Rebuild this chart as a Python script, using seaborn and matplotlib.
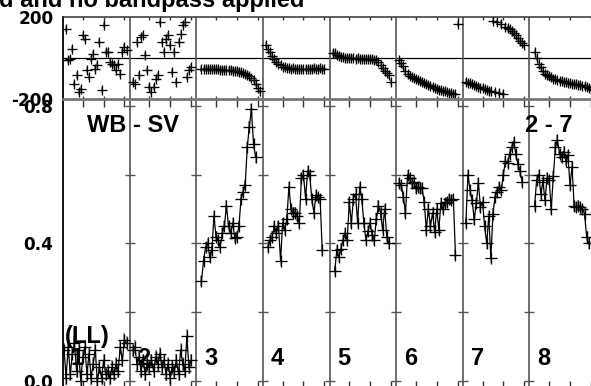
import numpy as np
import pandas as pd
import matplotlib
matplotlib.use('Agg')
import matplotlib.pyplot as plt
import seaborn as sns

sns.set_theme(style='white')
plt.rcParams['font.family'] = ['DejaVu Sans']
plt.rcParams['text.color'] = 'black'
plt.rcParams['ytick.color'] = 'black'

# ---- data: 8 IFs x 32 channels, LL, baseline WB - SV ----
nchan = 32
if_names = ['1', '2', '3', '4', '5', '6', '7', '8']

# amplitude (first channel of each list, then values)
amp_start = [1, 2, 3, 3, 3, 2, 2, 3]
amp_if1 = [0.09, 0.01, 0.10, 0.02, 0.08, 0.11, 0.03, 0.09, 0.00, 0.07, 0.10, 0.02, 0.08, 0.01, 0.05, 0.09,
           0.00, 0.04, 0.01, 0.06, 0.02, 0.03, 0.01, 0.04, 0.02, 0.05, 0.03, 0.10, 0.06, 0.12, 0.11]
amp_if2 = [0.09, 0.10, 0.05, 0.07, 0.03, 0.06, 0.02, 0.05, 0.04, 0.06, 0.03, 0.07, 0.05, 0.08, 0.04, 0.06,
           0.02, 0.05, 0.01, 0.04, 0.03, 0.06, 0.02, 0.09, 0.05, 0.03, 0.13, 0.04, 0.06]
amp_if3 = [0.29, 0.35, 0.39, 0.40, 0.36, 0.38, 0.48, 0.42, 0.41, 0.39, 0.43, 0.45, 0.51, 0.45, 0.43, 0.46,
           0.415, 0.42, 0.45, 0.53, 0.55, 0.57, 0.68, 0.74, 0.79, 0.69, 0.65]
amp_if4 = [0.39, 0.41, 0.42, 0.45, 0.43, 0.45, 0.35, 0.46, 0.44, 0.47, 0.565, 0.50, 0.49, 0.49, 0.48, 0.46,
           0.59, 0.60, 0.53, 0.61, 0.60, 0.53, 0.49, 0.54, 0.535, 0.53, 0.38]
amp_if5 = [0.32, 0.38, 0.36, 0.385, 0.41, 0.43, 0.41, 0.52, 0.46, 0.53, 0.545, 0.46, 0.565, 0.53, 0.46, 0.41,
           0.435, 0.46, 0.425, 0.41, 0.47, 0.51, 0.49, 0.44, 0.50, 0.42, 0.40]
amp_if6 = [0.575, 0.57, 0.535, 0.49, 0.60, 0.59, 0.575, 0.58, 0.56, 0.565, 0.56, 0.56, 0.52, 0.44, 0.50, 0.45,
           0.49, 0.434, 0.50, 0.44, 0.517, 0.50, 0.517, 0.52, 0.53, 0.526, 0.53, 0.366]
amp_if7 = [0.46, 0.60, 0.555, 0.526, 0.47, 0.517, 0.575, 0.507, 0.52, 0.45, 0.40, 0.48, 0.357, 0.487, 0.535, 0.55,
           0.565, 0.555, 0.60, 0.64, 0.633, 0.66, 0.68, 0.695, 0.66, 0.63, 0.61, 0.58]
amp_if8 = [0.51, 0.585, 0.60, 0.545, 0.58, 0.526, 0.59, 0.585, 0.50, 0.595, 0.68, 0.70, 0.66, 0.65, 0.667, 0.64,
           0.657, 0.57, 0.623, 0.51, 0.507, 0.51, 0.507, 0.50, 0.487, 0.42, 0.40]
amp_err = [0.02, 0.02, 0.015, 0.015, 0.015, 0.015, 0.015, 0.015]

# phase in degrees
ph_start = [2, 2, 3, 2, 2, 2, 2, 3]
ph_if1 = [143, -11, -3, 45, -125, -85, -166, -150, 111, 95, -60, -93, -3, 21, -52, -36,
          80, -158, 160, 29, 29, -20, -28, -36, -60, -28, -77, 29, 54, 37]
ph_if2 = [-117, -125, 78, -85, 102, 111, 13, -60, -141, -166, -141, -101, -85, 176, 78, 29,
          94, 111, 62, -68, 29, -117, 78, 119, 160, 176, -93, -60, -44]
ph_if3 = [-52, -53, -53, -54, -54, -55, -55, -56, -56, -57, -57, -58, -58, -59, -60, -61,
          -62, -64, -66, -69, -72, -76, -81, -88, -96, -108, -125, -145, -160]
ph_if4 = [63, 45, 30, 10, -5, -18, -28, -36, -42, -46, -49, -50, -52, -51, -53, -52,
          -53, -52, -54, -53, -52, -53, -52, -51, -53, -52, -51, -52, -53]
ph_if5 = [25, 22, 15, 8, 5, 3, 2, 0, 0, -2, -1, -3, -2, -3, -4, -3,
          -5, -4, -6, -5, -8, -12, -20, -35, -50, -62, -72, -85, -115]
ph_if6 = [-12, -22, -38, -62, -78, -86, -92, -98, -103, -108, -113, -118, -122, -127, -132, -137,
          -141, -146, -150, -154, -157, -160, -163, -166, -169, -172, -175, -178, 167]
ph_if7 = [-115, -120, -124, -128, -132, -136, -140, -144, -148, -152, -156, -160, -163, 179, -167, 176,
          -171, 168, -174, 152, 146, 140, 133, 122, 111, 98, 85, 72, 62]
ph_if8 = [30, 0, -28, -45, -62, -76, -84, -90, -95, -100, -104, -108, -111, -114, -117, -119,
          -121, -123, -125, -127, -129, -131, -133, -136, -139, -143, -147, -152, -158]
ph_err = [15, 15, 15, 15, 15, 15, 15, 15]

amp_lists = [amp_if1, amp_if2, amp_if3, amp_if4, amp_if5, amp_if6, amp_if7, amp_if8]
ph_lists = [ph_if1, ph_if2, ph_if3, ph_if4, ph_if5, ph_if6, ph_if7, ph_if8]

rows = []
for k, vals in enumerate(amp_lists):
    for i, v in enumerate(vals):
        rows.append({'IF': k + 1, 'chan': k * nchan + amp_start[k] + i, 'amp': v, 'err': amp_err[k]})
amp_df = pd.DataFrame(rows)

rows = []
for k, vals in enumerate(ph_lists):
    for i, v in enumerate(vals):
        rows.append({'IF': k + 1, 'chan': k * nchan + ph_start[k] + i, 'phase': v, 'err': ph_err[k]})
ph_df = pd.DataFrame(rows)

# ---- figure ----
W, H = 591, 386
fig = plt.figure(figsize=(W / 100, H / 100), dpi=100)
ax_ph = fig.add_axes([63 / W, (H - 99) / H, 533 / W, 82 / H])
ax_amp = fig.add_axes([63 / W, (H - 389) / H, 533 / W, 290 / H])

grey = '#8c8c8c'
sep_col = '#555555'
n_if = len(if_names)
xlim = (0.5, n_if * nchan + 0.5)
bounds = [k * nchan + 0.5 for k in range(1, n_if)]
xt = [k * nchan + c for k in range(n_if) for c in (10, 20, 30)]

# phase panel
ax_ph.errorbar(ph_df['chan'], ph_df['phase'], yerr=ph_df['err'], fmt='none',
               ecolor=grey, elinewidth=1.3, capsize=0, zorder=2)
sns.scatterplot(data=ph_df, x='chan', y='phase', marker='+', color='black',
                s=60, linewidth=0.95, ax=ax_ph, legend=False, zorder=3)
ax_ph.axhline(0, color='black', lw=0.9, zorder=1)
for b in bounds:
    ax_ph.axvline(b, color=sep_col, lw=1.2, zorder=1)
ax_ph.set_xlim(*xlim)
ax_ph.set_ylim(-200, 200)
ax_ph.set_yticks([-200, 200])
ax_ph.set_yticklabels(['-200', '200'])

# amplitude panel
ax_amp.errorbar(amp_df['chan'], amp_df['amp'], yerr=amp_df['err'], fmt='none',
                ecolor=grey, elinewidth=1.2, capsize=0, zorder=2)
sns.lineplot(data=amp_df, x='chan', y='amp', units='IF', estimator=None, color='black',
             lw=0.9, marker='+', markersize=8, markeredgewidth=0.95, markeredgecolor='black',
             ax=ax_amp, legend=False, zorder=3)
amp_ticks = [0.0, 0.2, 0.4, 0.6, 0.8]
for b in bounds:
    ax_amp.axvline(b, color=sep_col, lw=1.2, zorder=1)
    ax_amp.plot([b] * len(amp_ticks), amp_ticks, ls='none', marker='_', ms=7.5,
                mew=1.0, color=sep_col, zorder=1)
ax_amp.set_xlim(*xlim)
ax_amp.set_ylim(-0.023, 0.82)
ax_amp.set_yticks(amp_ticks)
ax_amp.set_yticklabels(['0.0', '', '0.4', '', '0.8'])

tick_font = dict(family='DejaVu Sans', weight='bold', size=12.2)
for ax in (ax_ph, ax_amp):
    ax.set_xlabel('')
    ax.set_ylabel('')
    ax.set_xticks(xt)
    ax.set_xticklabels([])
    for lab in ax.get_yticklabels():
        lab.set_fontproperties(tick_font)
        lab.set_color('black')
    ax.spines['left'].set_color('black')
    ax.spines['left'].set_linewidth(1.3)
    ax.spines['right'].set_visible(False)

ax_ph.tick_params(axis='x', direction='in', length=2.5, width=1, color='#333333', top=True, bottom=True)
ax_ph.tick_params(axis='y', direction='in', length=0, pad=7, labelcolor='black')
ax_ph.spines['top'].set_color('#333333')
ax_ph.spines['top'].set_linewidth(1.1)
ax_ph.spines['bottom'].set_visible(False)

ax_amp.tick_params(axis='x', direction='in', length=6, width=1, color='#333333', top=True, bottom=True)
ax_amp.tick_params(axis='y', direction='in', length=5, width=1, pad=7, color='black', labelcolor='black')
ax_amp.spines['top'].set_color('#777777')
ax_amp.spines['top'].set_linewidth(2)
ax_amp.spines['bottom'].set_color('black')

# annotations
lab_font = dict(family='Liberation Sans', fontweight='bold', fontsize=17, color='black')
fig.text(-1 / W, 1 - 7 / H, 'd and no bandpass applied', ha='left', va='baseline', **lab_font)
ax_amp.text(12.0, 0.724, 'WB - SV', ha='left', va='baseline', **lab_font)
ax_amp.text(222.4, 0.724, '2 - 7', ha='left', va='baseline', **lab_font)
ax_amp.text(1.4, 0.11, '(LL)', ha='left', va='baseline', **lab_font)
for k, name in enumerate(if_names):
    ax_amp.text(k * nchan + 4.3, 0.047, name, ha='left', va='baseline', **lab_font)

fig.savefig('out.png', dpi=100)
